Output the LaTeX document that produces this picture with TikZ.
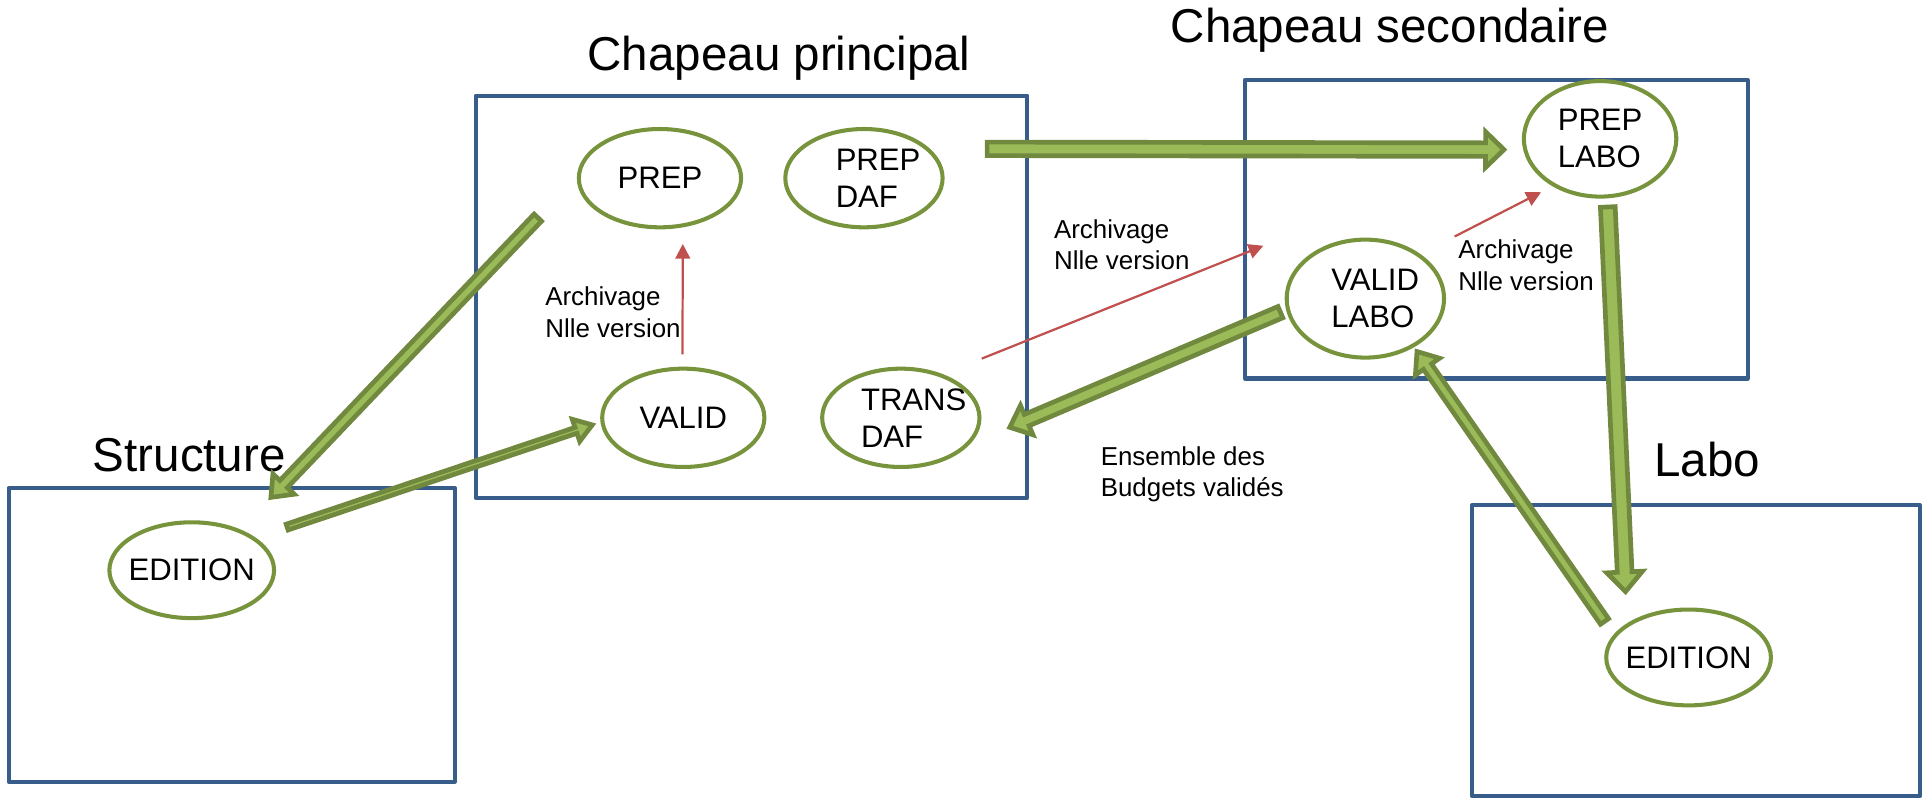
\documentclass[tikz,border=0pt]{standalone}
\usepackage{fontspec}
\setmainfont{Liberation Sans}
\usetikzlibrary{arrows.meta,calc,shapes.geometric}

\definecolor{bleucadre}{HTML}{385D8A}
\definecolor{vertbord}{HTML}{77933C}
\definecolor{vertfleche}{HTML}{9BBB59}
\definecolor{vertfonce}{HTML}{71893F}
\definecolor{rougearch}{HTML}{C0504D}

\tikzset{
  cadre/.style={draw=bleucadre, line width=0.33mm, line join=round},
  etape/.style={ellipse, draw=vertbord, line width=0.33mm, fill=white, inner xsep=-3mm, inner ysep=0pt, align=left, font=\fontsize{7.2}{8.6}\selectfont},
  titre/.style={anchor=base, inner sep=0pt, font=\fontsize{11}{13}\selectfont},
  etiq/.style={anchor=west, inner sep=0pt, align=left, font=\fontsize{6}{7.3}\selectfont},
  bloc/.style={draw=vertfonce, fill=vertfleche, line width=0.38mm, line join=miter},
  archive/.style={draw=rougearch, line width=0.18mm, -{Triangle[length=1.2mm,width=1.2mm]}}
}

% fleche pleine : depart, arrivee, ecart depart, ecart arrivee, demi-corps, demi-tete, longueur tete
\newcommand{\fleche}[7]{%
  \draw[bloc] let \p1=($(#1)!#3!(#2)$), \p2=($(#2)!#4!(#1)$),
    \n1={atan2(\y2-\y1,\x2-\x1)} in
    ($(\p1)+(\n1+90:#5)$) -- ($(\p2)+(\n1+180:#7)+(\n1+90:#5)$)
    -- ($(\p2)+(\n1+180:#7)+(\n1+90:#6)$) -- (\p2)
    -- ($(\p2)+(\n1+180:#7)+(\n1-90:#6)$) -- ($(\p2)+(\n1+180:#7)+(\n1-90:#5)$)
    -- ($(\p1)+(\n1-90:#5)$) -- cycle;}

\begin{document}
\begin{tikzpicture}[x=0.1mm, y=0.1mm]
\useasboundingbox (0,0) rectangle (1568,650);

\draw[cadre] (387,572) rectangle (836,245);
\draw[cadre] (1013,585) rectangle (1422,342);
\draw[cadre] (7,253) rectangle (370,14);
\draw[cadre] (1198,239) rectangle (1562,2);

\node[titre] (tcp) at (634,593) {Chapeau principal};
\node[titre] (tcs) at (1131,615) {Chapeau secondaire};
\node[titre] (tst) at (154,266) {Structure};
\node[titre] (tlb) at (1389,262) {Labo};

\node[etape, minimum width=13.2mm, minimum height=8mm] (prepP) at (537,505) {PREP};
\node[etape, minimum width=12.8mm, minimum height=8mm] (prepdaf) at (703,505) {\hspace*{2.3mm}PREP\\\hspace*{2.3mm}DAF};
\node[etape, minimum width=13.2mm, minimum height=8mm] (valid) at (556,310) {VALID};
\node[etape, minimum width=12.8mm, minimum height=8mm] (trans) at (733,310) {\hspace*{2.1mm}TRANS\\\hspace*{2.1mm}DAF};
\node[etape, minimum width=12.4mm, minimum height=9.4mm] (preplabo) at (1302,537) {PREP\\LABO};
\node[etape, minimum width=12.8mm, minimum height=9.6mm] (validlabo) at (1111,407) {\hspace*{1.6mm}VALID\\\hspace*{1.6mm}LABO};
\node[etape, minimum width=13.4mm, minimum height=7.8mm] (editS) at (156,186) {EDITION};
\node[etape, minimum width=13.4mm, minimum height=7.8mm] (editL) at (1374,115) {EDITION};

\node[etiq] (archA) at (443,396) {Archivage\\Nlle version};
\node[etiq] (archB) at (857,451) {Archivage\\Nlle version};
\node[etiq] (archC) at (1186,434) {Archivage\\Nlle version};
\node[etiq] (ensemble) at (895,264) {Ensemble des\\Budgets validés};

\fleche{prepP.179}{editS.40}{4.6mm}{3.6mm}{0.42mm}{1.2mm}{1.5mm}
\fleche{editS.27}{valid.183}{2.7mm}{0.7mm}{0.25mm}{0.95mm}{1.4mm}
\fleche{prepdaf.24}{preplabo.188}{4.65mm}{1.56mm}{0.55mm}{1.45mm}{1.5mm}
\fleche{preplabo.277}{editL.151}{0.7mm}{2.58mm}{0.6mm}{1.45mm}{1.6mm}
\fleche{editL.163}{validlabo.315}{1.3mm}{0.42mm}{0.4mm}{1.2mm}{1.5mm}
\fleche{validlabo.188}{trans.339}{0.5mm}{3.53mm}{0.5mm}{1.3mm}{1.5mm}

\coordinate (finB) at (1028,450);
\draw[archive] ($(valid.91)!1mm!(prepP.295)$) -- ($(prepP.295)!1.35mm!(valid.91)$);
\draw[archive] ($(trans.46)!3.4mm!(finB)$) -- (finB);
\draw[archive] ($(validlabo.39)!3.13mm!(preplabo.225)$) -- ($(preplabo.225)!1.05mm!(validlabo.39)$);
\end{tikzpicture}
\end{document}
